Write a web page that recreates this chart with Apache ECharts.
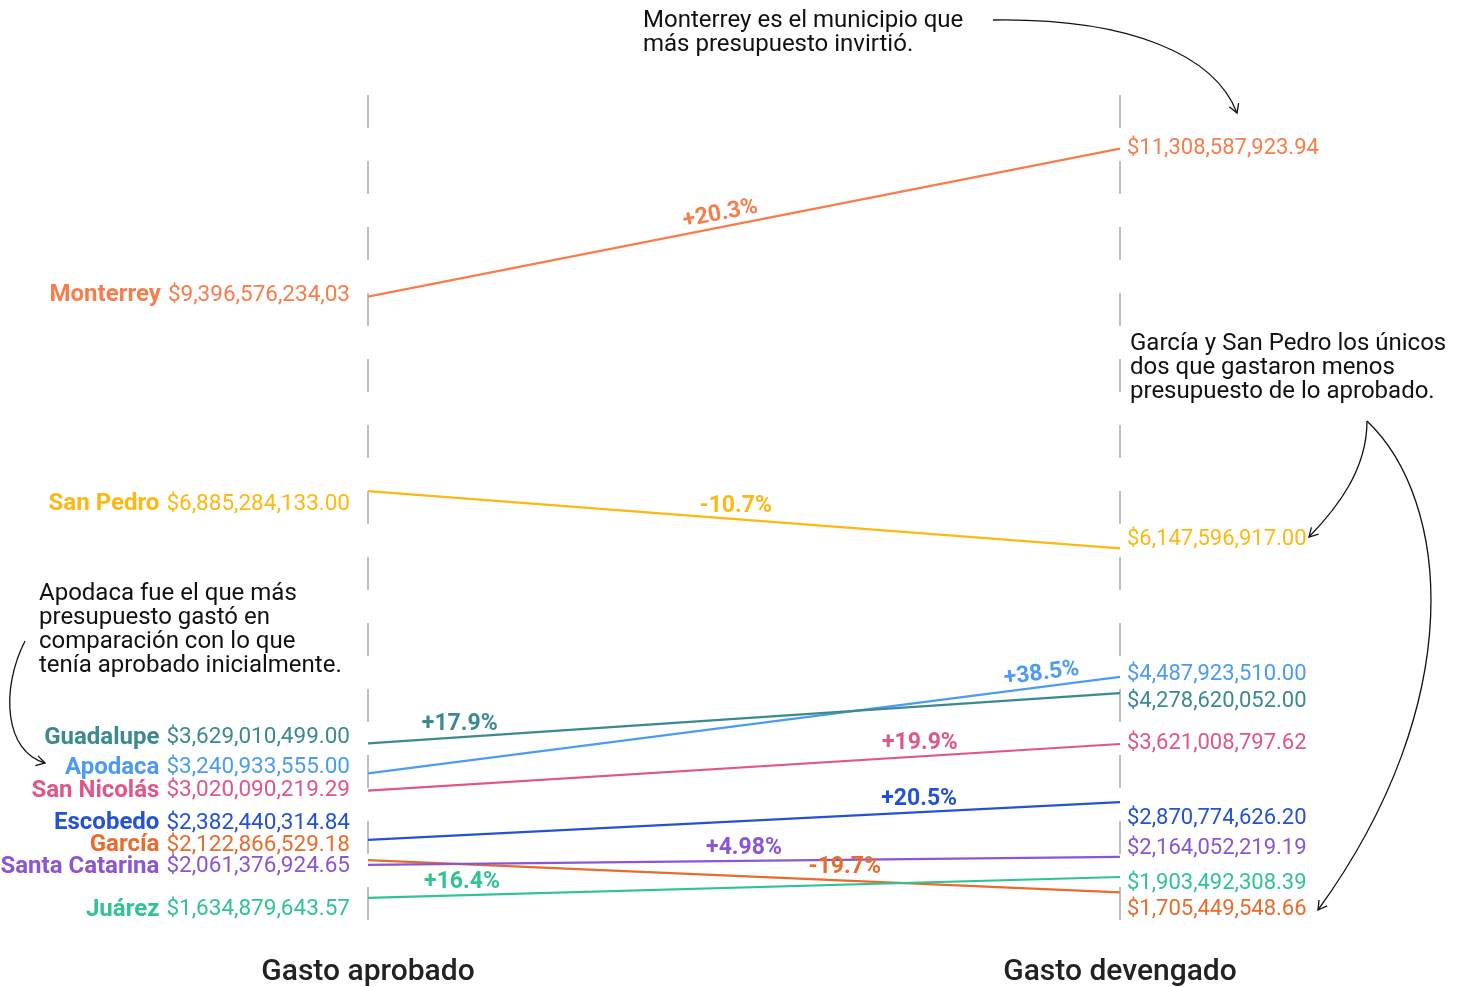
<!DOCTYPE html>
<html><head><meta charset="utf-8">
<script src="https://cdn.jsdelivr.net/npm/echarts@6/dist/echarts.min.js"></script>
<style>html,body{margin:0;padding:0;background:#fff}#c{width:1466px;height:987px}</style>
</head><body><div id="c"></div>
<script>
// ---- data ----
const municipios = ['Monterrey','San Pedro','Apodaca','Guadalupe','San Nicolás','Escobedo','García','Santa Catarina','Juárez'];
const columnas = ['Gasto aprobado','Gasto devengado'];
const gastoAprobado = [9396576234.03, 6885284133.00, 3240933555.00, 3629010499.00, 3020090219.29, 2382440314.84, 2122866529.18, 2061376924.65, 1634879643.57];
const gastoDevengado = [11308587923.94, 6147596917.00, 4487923510.00, 4278620052.00, 3621008797.62, 2870774626.20, 1705449548.66, 2164052219.19, 1903492308.39];
const textoAprobado = ['$9,396,576,234,03','$6,885,284,133.00','$3,240,933,555.00','$3,629,010,499.00','$3,020,090,219.29','$2,382,440,314.84','$2,122,866,529.18','$2,061,376,924.65','$1,634,879,643.57'];
const textoDevengado = ['$11,308,587,923.94','$6,147,596,917.00','$4,487,923,510.00','$4,278,620,052.00','$3,621,008,797.62','$2,870,774,626.20','$1,705,449,548.66','$2,164,052,219.19','$1,903,492,308.39'];
const cambio = ['+20.3%','-10.7%','+38.5%','+17.9%','+19.9%','+20.5%','-19.7%','+4.98%','+16.4%'];
const notas = [
  'Monterrey es el municipio que\nmás presupuesto invirtió.',
  'García y San Pedro los únicos\ndos que gastaron menos\npresupuesto de lo aprobado.',
  'Apodaca fue el que más\npresupuesto gastó en\ncomparación con lo que\ntenía aprobado inicialmente.'
];

// ---- styles / layout ----
const colores = ['#F67D4C','#FDB813','#4C9BF3','#3A8A8E','#E1568A','#2452D4','#EA6B2B','#8A56D3','#2FC492'];
const offIzq = [-1.5, 13, -5.6, -5.5, 0.3, -17, -15, 2, 12];
const offDer = [0.4, -8.3, -1.9, 8, 0, 15.9, 17.6, -8.8, 6.9];
const posPct = [0.472, 0.489, 0.898, 0.122, 0.734, 0.733, 0.634, 0.5, 0.125];
const rotPct = [true, false, true, false, false, false, false, false, false];
const FONT = 'Roboto';

const chart = echarts.init(document.getElementById('c'), null, {renderer: 'canvas'});

function lineSeries() {
  return municipios.map((m, i) => ({
    type: 'line', name: m, clip: false, animation: false,
    symbol: 'circle', symbolSize: 0, silent: true,
    lineStyle: {color: colores[i], width: 2.2},
    itemStyle: {color: colores[i]},
    emphasis: {disabled: true},
    data: [
      {value: [0, gastoAprobado[i]], label: {show: true, position: 'left', distance: 18, offset: [0, offIzq[i]],
        formatter: '{n|' + m + '}{v|' + textoAprobado[i] + '}',
        rich: {n: {fontFamily: FONT, fontWeight: 'bold', fontSize: 24, color: colores[i]},
               v: {fontFamily: FONT, fontSize: 22.5, color: colores[i], padding: [0, 0, 0, 7]}}}},
      {value: [1, gastoDevengado[i]], label: {show: true, position: 'right', distance: 7, offset: [0, offDer[i]],
        formatter: textoDevengado[i], fontFamily: FONT, fontSize: 22, color: colores[i]}}
    ]
  }));
}

function pctSeries(rots) {
  return {
    type: 'scatter', clip: false, animation: false, symbolSize: 0, silent: true, z: 5,
    itemStyle: {opacity: 1},
    data: municipios.map((m, i) => {
      const t = posPct[i];
      return {
        value: [t, gastoAprobado[i] + t * (gastoDevengado[i] - gastoAprobado[i])],
        itemStyle: {opacity: 1},
        label: {show: true, position: 'inside', formatter: cambio[i], rotate: rots[i], offset: [0, -13], opacity: 1,
          fontFamily: FONT, fontWeight: 'bold', fontSize: 23, color: colores[i]}
      };
    })
  };
}

function arrow(p0, c1, c2, p3) {
  const dx = p3[0] - c2[0], dy = p3[1] - c2[1];
  const L = Math.hypot(dx, dy);
  const ux = -dx / L, uy = -dy / L, h = 10, a = Math.PI / 6;
  const r = (ang) => [p3[0] + h * (ux * Math.cos(ang) - uy * Math.sin(ang)), p3[1] + h * (ux * Math.sin(ang) + uy * Math.cos(ang))];
  return [
    {type: 'bezierCurve', silent: true, shape: {x1: p0[0], y1: p0[1], cpx1: c1[0], cpy1: c1[1], cpx2: c2[0], cpy2: c2[1], x2: p3[0], y2: p3[1]},
      style: {stroke: '#111', lineWidth: 1.3, fill: 'none'}},
    {type: 'polyline', silent: true, shape: {points: [r(a), p3, r(-a)]}, style: {stroke: '#111', lineWidth: 1.3, fill: 'none'}}
  ];
}

const textStyle = (t) => ({text: t, font: '24px ' + FONT, fill: '#111', lineHeight: 24});

const option = {
  backgroundColor: '#fff',
  animation: false,
  grid: {left: 368, right: 346, top: 95, bottom: 40, containLabel: false, outerBoundsMode: 'none'},
  xAxis: {
    type: 'value', min: 0, max: 1, interval: 1,
    axisLine: {show: false}, axisTick: {show: false},
    splitLine: {show: true, lineStyle: {color: '#aaa', width: 1.5, type: [33, 33]}},
    axisLabel: {formatter: (v) => columnas[Math.round(v)], fontFamily: FONT, fontSize: 30, fontWeight: 500,
      color: '#222', margin: 10, showMinLabel: true, showMaxLabel: true}
  },
  yAxis: {type: 'value', min: 1e9, max: 12e9, show: false},
  series: lineSeries().concat([pctSeries(municipios.map(() => 0))]),
  graphic: [
    {type: 'text', left: 643, top: 9, silent: true, style: textStyle(notas[0])},
    {type: 'text', left: 1130, top: 332, silent: true, style: textStyle(notas[1])},
    {type: 'text', left: 39, top: 582, silent: true, style: textStyle(notas[2])},
    ...arrow([993, 20], [1130, 18], [1215, 55], [1237, 113]),
    ...arrow([1367, 421], [1367, 470], [1337, 508], [1309, 537]),
    ...arrow([1367, 421], [1450, 500], [1470, 700], [1318, 910]),
    ...arrow([25, 641], [0, 690], [5, 752], [45, 763])
  ]
};
chart.setOption(option);

const rots = municipios.map((m, i) => {
  if (!rotPct[i]) return 0;
  const p0 = chart.convertToPixel({gridIndex: 0}, [0, gastoAprobado[i]]);
  const p1 = chart.convertToPixel({gridIndex: 0}, [1, gastoDevengado[i]]);
  return -Math.atan2(p1[1] - p0[1], p1[0] - p0[0]) * 180 / Math.PI;
});
option.series = lineSeries().concat([pctSeries(rots)]);
chart.setOption(option, true);
</script>
</body></html>
